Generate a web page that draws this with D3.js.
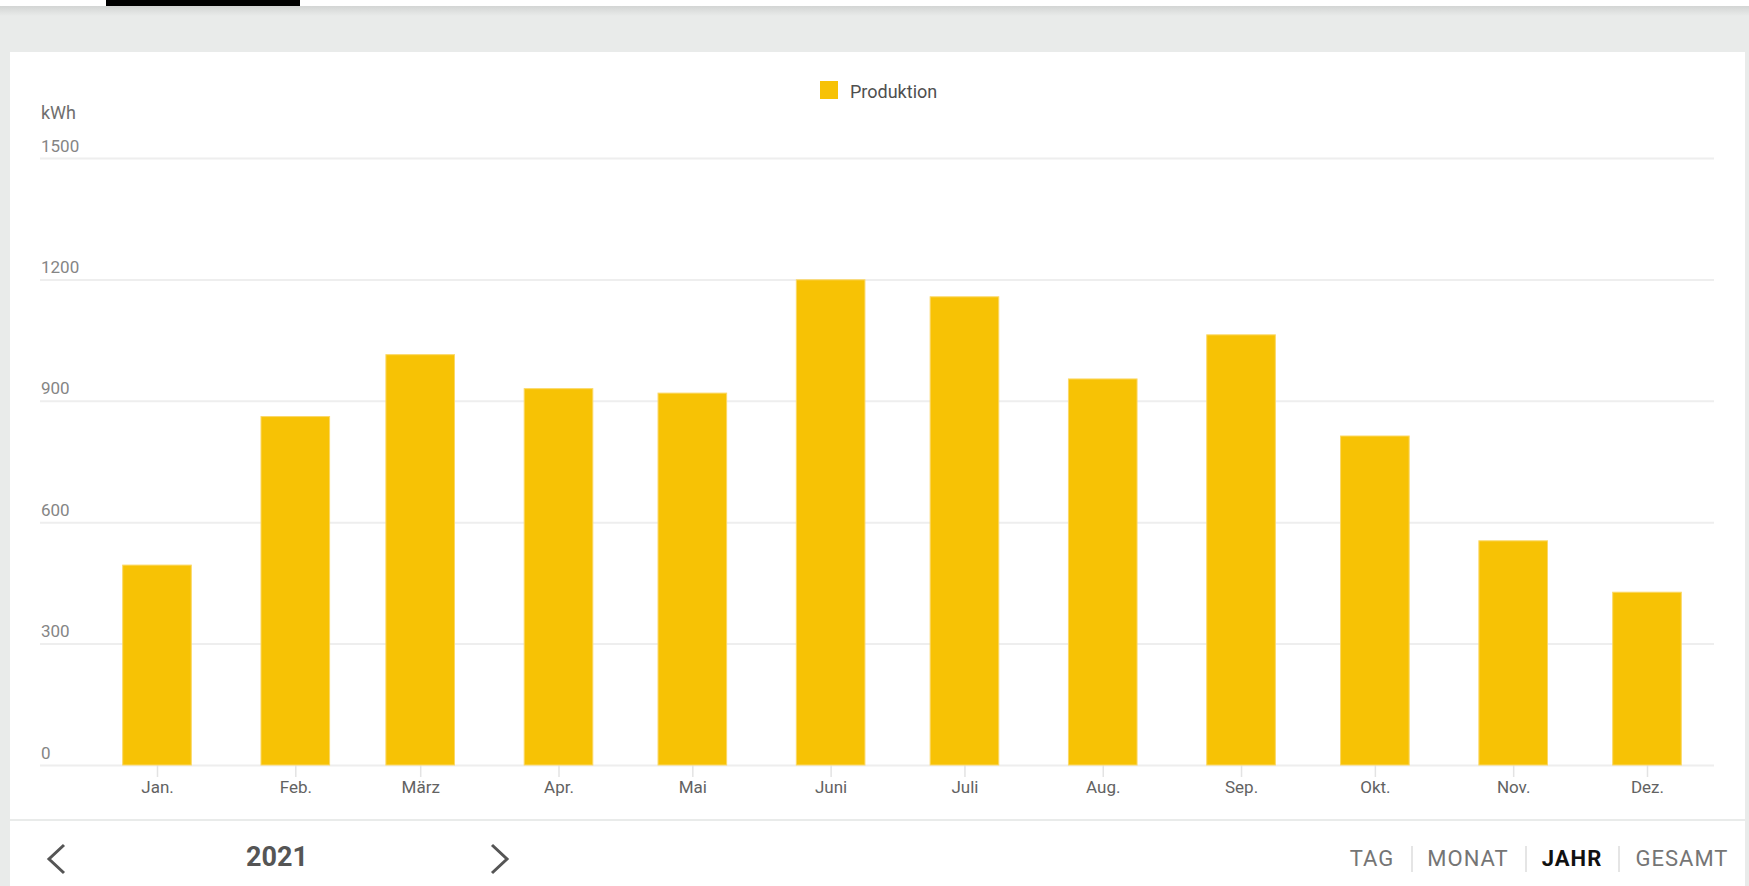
<!DOCTYPE html>
<html>
<head>
<meta charset="utf-8">
<script src="https://cdn.jsdelivr.net/npm/d3@7"></script>
<style>
  body { margin: 0; background: #e9ebea; font-family: Roboto, "Noto Sans", sans-serif; }
  svg { display: block; }
</style>
</head>
<body>
<svg id="chart" width="1749" height="886"></svg>
<script>
// Monthly production 2021 (kWh)
const months = ["Jan.", "Feb.", "März", "Apr.", "Mai", "Juni", "Juli", "Aug.", "Sep.", "Okt.", "Nov.", "Dez."];
const produktion = [494, 861, 1014, 930, 919, 1199, 1157, 954, 1063, 813, 554, 427];
const yTicks = [0, 300, 600, 900, 1200, 1500];
const periods = ["TAG", "MONAT", "JAHR", "GESAMT"];
const year = "2021";

const svg = d3.select("#chart");

// page chrome: top strip, tab, shadow and the two white cards
const defs = svg.append("defs");
const grad = defs.append("linearGradient").attr("id", "shadow").attr("x1", 0).attr("x2", 0).attr("y1", 0).attr("y2", 1);
grad.append("stop").attr("offset", 0).attr("stop-color", "#d3d5d4");
grad.append("stop").attr("offset", 1).attr("stop-color", "#e9ebea");

svg.append("rect").attr("x", 0).attr("y", 0).attr("width", 1749).attr("height", 6).attr("fill", "#ffffff");
svg.append("rect").attr("x", 106).attr("y", 0).attr("width", 194).attr("height", 6).attr("fill", "#000000");
svg.append("rect").attr("x", 0).attr("y", 6).attr("width", 1749).attr("height", 10).attr("fill", "url(#shadow)");
svg.append("rect").attr("x", 10).attr("y", 52).attr("width", 1735).attr("height", 767).attr("fill", "#ffffff");
svg.append("rect").attr("x", 10).attr("y", 821).attr("width", 1735).attr("height", 65).attr("fill", "#ffffff");

// scales: bars sit on the first day of each month (time scale)
const dates = months.map((m, i) => new Date(Date.UTC(2021, i, 1)));
const x = d3.scaleUtc()
  .domain([dates[0], dates[11]])
  .range([157, 1647]);
const y = d3.scaleLinear()
  .domain([0, 1500])
  .range([765, 158]);

const gridLeft = 40, gridRight = 1714;

// y grid + labels
const yAxis = svg.append("g")
  .attr("transform", `translate(${gridLeft},0)`)
  .call(d3.axisRight(y).tickValues(yTicks).tickSize(gridRight - gridLeft).tickFormat(d3.format("d")));
yAxis.select(".domain").remove();
yAxis.selectAll(".tick line").attr("stroke", "#eeeeee").attr("stroke-width", 2);
yAxis.selectAll(".tick text")
  .attr("x", 1)
  .attr("y", 0)
  .attr("dy", "-7")
  .attr("text-anchor", "start")
  .attr("fill", "#858585")
  .style("font-family", "Roboto")
  .style("font-size", "17px");

svg.append("text")
  .attr("x", 41).attr("y", 119)
  .attr("fill", "#6f6f6f")
  .style("font-family", "Roboto").style("font-size", "18px")
  .text("kWh");

// x axis (month ticks)
const xAxis = svg.append("g")
  .attr("transform", "translate(0,765)")
  .call(d3.axisBottom(x).tickValues(dates).tickSize(12).tickFormat((d, i) => months[i]));
xAxis.select(".domain").remove();
xAxis.selectAll(".tick line").attr("stroke", "#e3e3e3").attr("stroke-width", 1.5);
xAxis.selectAll(".tick text")
  .attr("y", 28)
  .attr("dy", 0)
  .attr("fill", "#626262")
  .style("font-family", "Roboto")
  .style("font-size", "17px");

// bars
const barW = 68.6;
svg.append("g").selectAll("rect")
  .data(produktion)
  .join("rect")
  .attr("x", (d, i) => x(dates[i]) - barW / 2)
  .attr("y", d => y(d))
  .attr("width", barW)
  .attr("height", d => y(0) - y(d))
  .attr("fill", "#f7c205")
  .attr("stroke", "#fbd866")
  .attr("stroke-width", 1);

// legend
svg.append("rect").attr("x", 820).attr("y", 81).attr("width", 18).attr("height", 18).attr("fill", "#f7c205");
svg.append("text")
  .attr("x", 850).attr("y", 98)
  .attr("fill", "#4f4f4f")
  .style("font-family", "Roboto").style("font-size", "18px")
  .text("Produktion");

// bottom navigation
const chevron = d3.line();
svg.append("path")
  .attr("d", chevron([[64, 845], [49, 859], [64, 873]]))
  .attr("fill", "none").attr("stroke", "#555").attr("stroke-width", 3);
svg.append("path")
  .attr("d", chevron([[492, 845], [507, 859], [492, 873]]))
  .attr("fill", "none").attr("stroke", "#555").attr("stroke-width", 3);
svg.append("text")
  .attr("x", 277).attr("y", 866)
  .attr("text-anchor", "middle")
  .attr("fill", "#555")
  .style("font-family", "Roboto").style("font-size", "27px").style("font-weight", "bold")
  .text(year);

const btnX = [1372, 1468, 1572, 1682];
svg.append("g").selectAll("text")
  .data(periods)
  .join("text")
  .attr("x", (d, i) => btnX[i])
  .attr("y", 866)
  .attr("text-anchor", "middle")
  .attr("fill", d => d === "JAHR" ? "#111" : "#757575")
  .style("font-family", "Roboto")
  .style("font-size", "22px")
  .style("letter-spacing", "1px")
  .style("font-weight", d => d === "JAHR" ? "bold" : "normal")
  .text(d => d);

svg.append("g").selectAll("line")
  .data([1412, 1526, 1619])
  .join("line")
  .attr("x1", d => d).attr("x2", d => d)
  .attr("y1", 846).attr("y2", 872)
  .attr("stroke", "#dddddd").attr("stroke-width", 1.5);
</script>
</body>
</html>
